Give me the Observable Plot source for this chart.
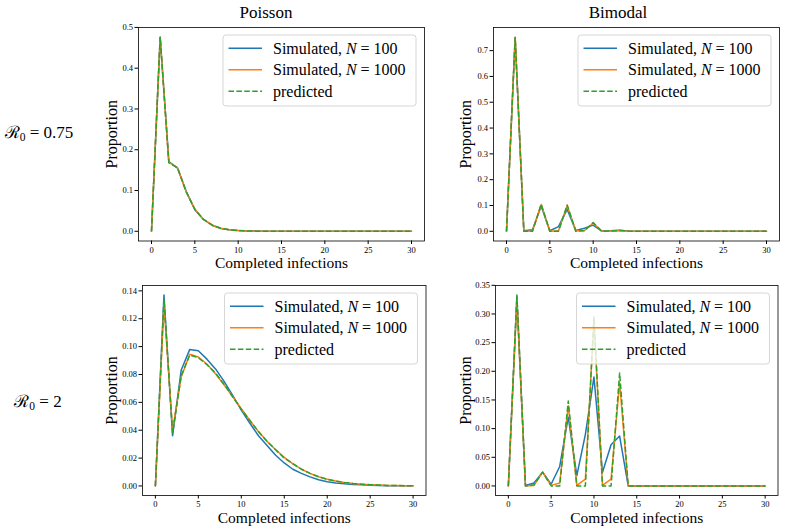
<!DOCTYPE html>
<html><head><meta charset="utf-8">
<script src="https://cdn.jsdelivr.net/npm/d3@7"></script>
<script src="https://cdn.jsdelivr.net/npm/@observablehq/plot@0.6"></script>
<style>
body{margin:0;background:#fff;}
#fig{position:relative;width:787px;height:531px;background:#fff;font-family:"Liberation Serif","Times New Roman","DejaVu Serif",serif;color:#000;overflow:hidden}
.lbl{position:absolute;transform:translate(-50%,-50%);white-space:nowrap;line-height:1}
.title{font-size:17px}
.row{font-size:17px}
.row sub{font-size:11.5px;vertical-align:-3px}
svg{position:absolute}
svg text{font-family:"Liberation Serif","Times New Roman","DejaVu Serif",serif}
</style></head><body><div id="fig"></div>
<script>
// ---- data ----
const infections = [0,1,2,3,4,5,6,7,8,9,10,11,12,13,14,15,16,17,18,19,20,21,22,23,24,25,26,27,28,29,30];
const xTicks = [0,5,10,15,20,25,30];
const colTitles = ["Poisson","Bimodal"];
const rowLabels = ["0.75","2"];
const seriesNames = ["Simulated, N = 100","Simulated, N = 1000","predicted"];

// Poisson, R0 = 0.75
const poisson075_sim100  = [0,0.476,0.171,0.155,0.098,0.053,0.029,0.015,0.007,0.004,0.002,0.001,0.0005,0.0002,0.0001,0,0,0,0,0,0,0,0,0,0,0,0,0,0,0,0];
const poisson075_sim1000 = [0,0.475,0.169,0.156,0.097,0.054,0.029,0.015,0.0075,0.0037,0.0018,0.0009,0.0004,0.0002,0.0001,0,0,0,0,0,0,0,0,0,0,0,0,0,0,0,0];
const poisson075_pred    = [0,0.476,0.168,0.156,0.097,0.054,0.029,0.015,0.0075,0.0037,0.0018,0.0009,0.0004,0.0002,0.0001,0,0,0,0,0,0,0,0,0,0,0,0,0,0,0,0];
// Bimodal, R0 = 0.75
const bimodal075_sim100  = [0,0.75,0.002,0.006,0.097,0.002,0.018,0.085,0.003,0.012,0.024,0.001,0.002,0.004,0.001,0,0,0,0,0,0,0,0,0,0,0,0,0,0,0,0];
const bimodal075_sim1000 = [0,0.751,0,0.001,0.104,0,0.002,0.100,0.001,0.003,0.032,0,0.001,0.003,0.0005,0,0,0,0,0,0,0,0,0,0,0,0,0,0,0,0];
const bimodal075_pred    = [0,0.752,0,0,0.105,0,0,0.102,0,0.002,0.034,0,0.001,0.003,0.001,0,0,0,0,0,0,0,0,0,0,0,0,0,0,0,0];
// Poisson, R0 = 2
const poisson2_sim100  = [0,0.137,0.036,0.083,0.098,0.097,0.091,0.084,0.075,0.065,0.0545,0.045,0.036,0.029,0.022,0.0165,0.012,0.009,0.0065,0.0045,0.003,0.0022,0.0016,0.0011,0.0008,0.0005,0.0003,0.0002,0.0001,0.0001,0.0001];
const poisson2_sim1000 = [0,0.130,0.040,0.078,0.0945,0.0925,0.0875,0.0805,0.0725,0.064,0.0555,0.047,0.039,0.032,0.026,0.0205,0.0158,0.012,0.009,0.0066,0.0048,0.0035,0.0025,0.0018,0.0013,0.0009,0.0006,0.0004,0.0003,0.0002,0.0001];
const poisson2_pred    = [0,0.134,0.038,0.079,0.094,0.092,0.087,0.081,0.073,0.064,0.055,0.047,0.039,0.032,0.026,0.020,0.016,0.012,0.009,0.0066,0.0048,0.0035,0.0025,0.0018,0.0013,0.0009,0.0006,0.0004,0.0003,0.0002,0.0001];
// Bimodal, R0 = 2
const bimodal2_sim100  = [0,0.330,0.001,0.005,0.024,0.003,0.034,0.120,0.018,0.090,0.190,0.024,0.072,0.087,0,0,0,0,0,0,0,0,0,0,0,0,0,0,0,0,0];
const bimodal2_sim1000 = [0,0.325,0,0.001,0.024,0.001,0.005,0.140,0.001,0.012,0.288,0.001,0.012,0.180,0,0,0,0,0,0,0,0,0,0,0,0,0,0,0,0,0];
const bimodal2_pred    = [0,0.333,0,0.002,0.024,0,0,0.148,0,0,0.296,0,0,0.197,0,0,0,0,0,0,0,0,0,0,0,0,0,0,0,0,0];

const yTicks075p = [0,0.1,0.2,0.3,0.4,0.5];
const yTicks075b = [0,0.1,0.2,0.3,0.4,0.5,0.6,0.7];
const yTicks2p = [0,0.02,0.04,0.06,0.08,0.10,0.12,0.14];
const yTicks2b = [0,0.05,0.10,0.15,0.20,0.25,0.30,0.35];

const colors = ["#1f77b4","#ff7f0e","#2ca02c"];
const serif = "'Liberation Serif', 'Times New Roman', 'DejaVu Serif', serif";

const fig = document.getElementById("fig");

function panel(cfg) {
  const {L,R,T,B} = cfg.frame;
  const mL = 60, mT = 10, mR = 12, mB = 40;
  const fw = R - L, fh = B - T;
  const w = fw + mL + mR, h = fh + mT + mB;
  const tbl = s => infections.map((x,i) => ({x, y: s[i]}));
  const ymax = d3.max(cfg.series.flat());
  const pad = ymax * 0.05;
  const svg = Plot.plot({
    width: w, height: h,
    marginLeft: mL, marginRight: mR, marginTop: mT, marginBottom: mB,
    style: {fontFamily: serif, fontSize: "8.5px", background: "transparent", overflow: "visible", color: "#000"},
    x: {domain: [-1.5, 31.5]},
    y: {domain: [-pad, ymax + pad]},
    marks: [
      Plot.line(tbl(cfg.series[0]), {x: "x", y: "y", stroke: colors[0], strokeWidth: 1.5}),
      Plot.line(tbl(cfg.series[1]), {x: "x", y: "y", stroke: colors[1], strokeWidth: 1.5}),
      Plot.line(tbl(cfg.series[2]), {x: "x", y: "y", stroke: colors[2], strokeWidth: 1.5, strokeDasharray: "5.5,2.4", strokeLinecap: "butt"}),
      Plot.frame({stroke: "#000", strokeWidth: 0.8}),
      Plot.axisX({ticks: xTicks, tickFormat: d3.format("d"), tickSize: 3.5, tickPadding: 2, label: null}),
      Plot.axisY({ticks: cfg.yTicks, tickFormat: d3.format(cfg.yFormat), tickSize: 3.5, tickPadding: 2, label: null}),
      Plot.text(["Proportion"], {text: d => d, frameAnchor: "left", dx: cfg.ylabelDx, rotate: -90, fontSize: 16, textAnchor: "middle", lineAnchor: "middle"}),
      Plot.text(["Completed infections"], {text: d => d, frameAnchor: "bottom", dy: 22.5, fontSize: 15.5, textAnchor: "middle", lineAnchor: "middle"})
    ]
  });
  svg.style.left = (L - mL) + "px";
  svg.style.top = (T - mT) + "px";
  // legend
  const bw = 193, bh = 71, inset = 8;
  const bx = mL + fw - inset - bw, by = mT + inset;
  const g = d3.select(svg).append("g").attr("text-anchor", "start");
  g.append("rect").attr("x", bx).attr("y", by).attr("width", bw).attr("height", bh)
    .attr("rx", 3).attr("fill", "white").attr("fill-opacity", 0.8)
    .attr("stroke", "#cccccc").attr("stroke-width", 0.8);
  seriesNames.forEach((name, i) => {
    const yy = by + 13.3 + 21.5 * i;
    g.append("line").attr("x1", bx + 5.5).attr("x2", bx + 39).attr("y1", yy).attr("y2", yy)
      .attr("stroke", colors[i]).attr("stroke-width", 1.5)
      .attr("stroke-dasharray", i === 2 ? "5.5,2.4" : null);
    const t = g.append("text").attr("x", bx + 50).attr("y", yy).attr("dy", "0.35em")
      .attr("text-anchor", "start").style("text-anchor", "start")
      .attr("font-size", 16).attr("fill", "#000");
    const m = name.match(/^(Simulated, )N( = \d+)$/);
    if (m) {
      t.append("tspan").text(m[1]);
      t.append("tspan").attr("font-style", "italic").text("N");
      t.append("tspan").text(m[2]);
    } else t.text(name);
  });
  d3.select(svg).selectAll("text").style("font-family", serif);
  fig.appendChild(svg);
}

panel({frame: {L: 138, R: 424, T: 27, B: 240.5}, series: [poisson075_sim100, poisson075_sim1000, poisson075_pred], yTicks: yTicks075p, yFormat: ".1f", ylabelDx: -27});
panel({frame: {L: 492.5, R: 778.5, T: 27, B: 240.5}, series: [bimodal075_sim100, bimodal075_sim1000, bimodal075_pred], yTicks: yTicks075b, yFormat: ".1f", ylabelDx: -27.5});
panel({frame: {L: 141.5, R: 425, T: 285, B: 495}, series: [poisson2_sim100, poisson2_sim1000, poisson2_pred], yTicks: yTicks2p, yFormat: ".2f", ylabelDx: -30.5});
panel({frame: {L: 494.5, R: 777, T: 285, B: 495}, series: [bimodal2_sim100, bimodal2_sim1000, bimodal2_pred], yTicks: yTicks2b, yFormat: ".2f", ylabelDx: -29.5});

// titles and row labels
function lbl(html, x, y, cls) {
  const d = document.createElement("div");
  d.className = "lbl " + cls;
  d.innerHTML = html;
  d.style.left = x + "px"; d.style.top = y + "px";
  fig.appendChild(d);
}
lbl(colTitles[0], 266, 12, "title");
lbl(colTitles[1], 618, 12, "title");
lbl("ℛ<sub>0</sub> = " + rowLabels[0], 39, 134, "row");
lbl("ℛ<sub>0</sub> = " + rowLabels[1], 38, 403, "row");
</script>
</body></html>
